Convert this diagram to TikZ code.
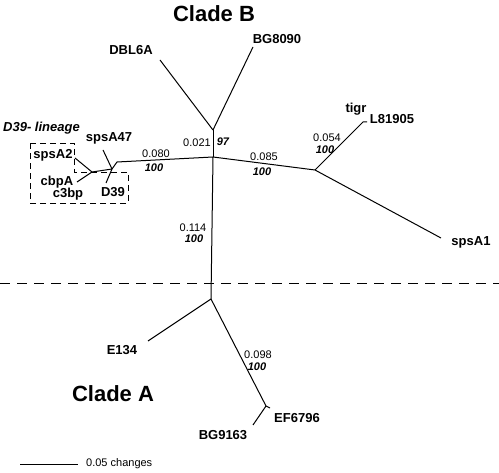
\documentclass[tikz,border=0pt]{standalone}
\usepackage{fontspec}
\setmainfont{Liberation Sans}
\begin{document}
\begin{tikzpicture}[x=1pt,y=-1pt,
  branch/.style={line width=1pt},
  leaf/.style={font=\fontsize{13}{15}\selectfont\bfseries, inner sep=0pt},
  blen/.style={font=\fontsize{11}{13}\selectfont, inner sep=0pt},
  boot/.style={font=\fontsize{11}{13}\selectfont\bfseries\itshape, inner sep=0pt},
  clade/.style={font=\fontsize{22}{25}\selectfont\bfseries, inner sep=0pt},
  divider/.style={line width=0.8pt, dash pattern=on 10pt off 7pt},
  lineagebox/.style={line width=0.8pt, dash pattern=on 6pt off 4pt}]
\useasboundingbox (0,0) rectangle (499,473);
% tree coordinates
\coordinate (C) at (213,157);
\coordinate (U) at (213,130);
\coordinate (dbl) at (160,60);
\coordinate (bg80) at (253,47);
\coordinate (R) at (315,170);
\coordinate (tg) at (363,122);
\coordinate (tgs) at (367,122);
\coordinate (sps1) at (441,238);
\coordinate (Q) at (117,162);
\coordinate (J1) at (112,169);
\coordinate (s47) at (103,150);
\coordinate (d39) at (106,183);
\coordinate (J2) at (92,172);
\coordinate (s2) at (75,158);
\coordinate (cb) at (77,182);
\coordinate (A) at (211,299);
\coordinate (e134) at (148,341);
\coordinate (B2) at (266,406);
\coordinate (ef) at (270,408);
\coordinate (bg91) at (253,425);
\coordinate (dl) at (0,283);
\coordinate (dr) at (499,283);
\coordinate (sbl) at (20,464);
\coordinate (sbr) at (78,464);
% branches
\draw[branch] (C) -- (U);
\draw[branch] (U) -- (dbl);
\draw[branch] (U) -- (bg80);
\draw[branch] (C) -- (R);
\draw[branch] (R) -- (tg) -- (tgs);
\draw[branch] (R) -- (sps1);
\draw[branch] (C) -- (Q) -- (J1);
\draw[branch] (J1) -- (s47);
\draw[branch] (J1) -- (d39);
\draw[branch] (J1) -- (J2);
\draw[branch] (J2) -- (s2);
\draw[branch] (J2) -- (cb);
\draw[branch] (C) -- (A);
\draw[branch] (A) -- (e134);
\draw[branch] (A) -- (B2);
\draw[branch] (B2) -- (ef);
\draw[branch] (B2) -- (bg91);
% divider and lineage box
\draw[divider] (dl) -- (dr);
\draw[lineagebox] (30,143) -- (74,143) -- (74,172) -- (128,172) -- (128,203) -- (30,203) -- cycle;
% scale bar
\draw[line width=0.8pt] (sbl) -- (sbr);
\node[blen, anchor=west] (scale) at (86,464) {0.05 changes};
% titles
\node[clade] (cladeB) at (214,14) {Clade B};
\node[clade] (cladeA) at (113,394) {Clade A};
\node[font=\fontsize{13}{15}\selectfont\bfseries\itshape, inner sep=0pt, anchor=west] (lin) at (3,128) {D39- lineage};
% leaf labels
\node[leaf] (nDBL) at (131,50) {DBL6A};
\node[leaf] (nBG80) at (277,39) {BG8090};
\node[leaf] (ntigr) at (356,109) {tigr};
\node[leaf] (nL81) at (392,119) {L81905};
\node[leaf] (nsps1) at (471,242) {spsA1};
\node[leaf] (nsps47) at (109,138) {spsA47};
\node[leaf] (nsps2) at (53,155) {spsA2};
\node[leaf, anchor=base] (ncbp) at (57,186) {cbpA};
\node[leaf, anchor=base] (nc3) at (68,198) {c3bp};
\node[leaf] (nD39) at (113,192) {D39};
\node[leaf] (nE134) at (122,350) {E134};
\node[leaf] (nEF) at (297,418) {EF6796};
\node[leaf] (nBG91) at (223,435) {BG9163};
% branch lengths and bootstrap
\node[blen] (l021) at (197,143) {0.021};
\node[boot] (b97) at (223,142) {97};
\node[blen] (l080) at (156,154) {0.080};
\node[boot] (b080) at (154,168) {100};
\node[blen] (l085) at (264,157) {0.085};
\node[boot] (b085) at (262,172) {100};
\node[blen] (l054) at (327,138) {0.054};
\node[boot] (b054) at (325,150) {100};
\node[blen] (l114) at (193,228) {0.114};
\node[boot] (b114) at (194,239) {100};
\node[blen] (l098) at (258,355) {0.098};
\node[boot] (b098) at (257,367) {100};
\end{tikzpicture}
\end{document}
